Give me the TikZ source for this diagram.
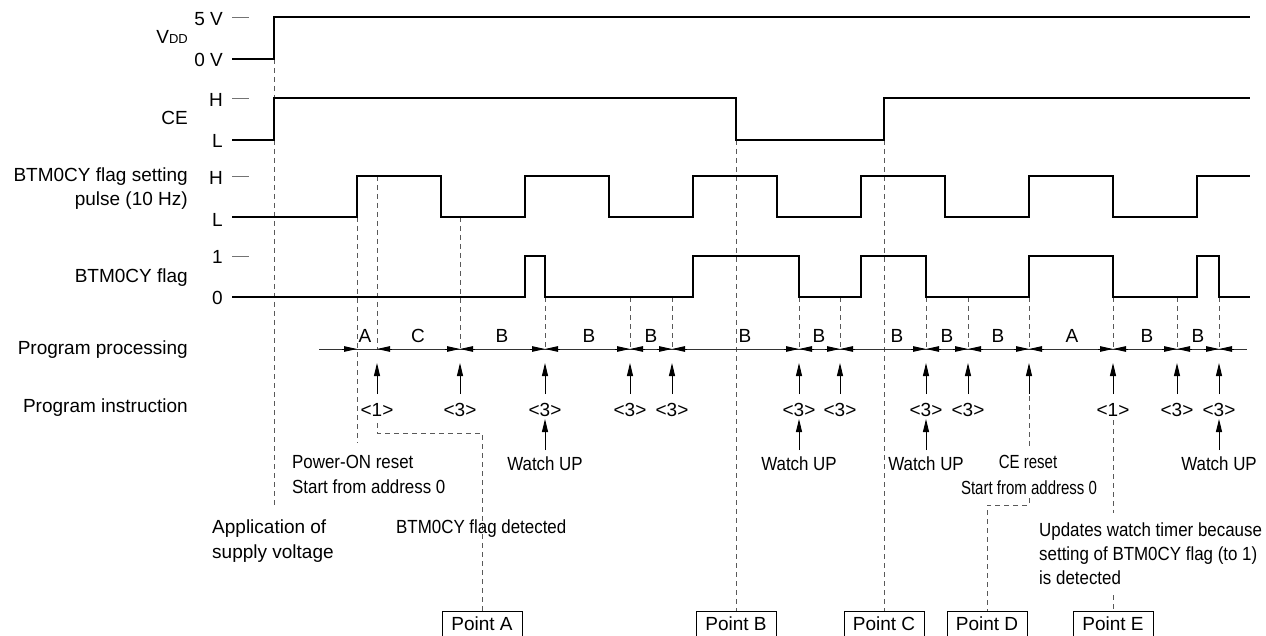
\documentclass[tikz,border=0pt]{standalone}
\usepackage{fontspec}
\setmainfont{Liberation Sans}
\newfontfamily\narrowA[FakeStretch=0.89]{Liberation Sans}
\newfontfamily\narrowB[FakeStretch=0.79]{Liberation Sans}
\usetikzlibrary{arrows.meta}
\begin{document}
\begin{tikzpicture}[x=1pt,y=-1pt,
 wave/.style={line width=2.5pt,line join=miter},
 dline/.style={line width=0.9pt,draw=black!65,dash pattern=on 5pt off 4pt},
 axisln/.style={line width=0.9pt,draw=black!80},
 ticky/.style={line width=0.9pt,draw=black!55},
 tipR/.style={-{Triangle[length=13pt,width=5.5pt]},line width=0.9pt},
 uparr/.style={-{Triangle[length=13pt,width=6pt]},line width=1pt},
 lbl/.style={inner sep=0pt,font=\fontsize{19}{22}\selectfont},
 nlbl/.style={inner sep=0pt,font=\narrowA\fontsize{19}{24}\selectfont},
 mlbl/.style={inner sep=0pt,font=\narrowB\fontsize{19}{24}\selectfont},
 ptbox/.style={draw,line width=0.9pt,minimum width=80pt,minimum height=26pt,inner sep=0pt,font=\fontsize{19}{22}\selectfont}]
\useasboundingbox (0,0) rectangle (1266,636);
\clip (0,0) rectangle (1266,636);

% ---------- left labels ----------
\node[lbl,anchor=base east] (vdd) at (188,44) {V{\fontsize{13}{13}\selectfont DD}};
\node[lbl,anchor=base east] (ce) at (188,125) {CE};
\node[lbl,anchor=base east] (pl1) at (188,182) {BTM0CY flag setting};
\node[lbl,anchor=base east] (pl2) at (188,206) {pulse (10 Hz)};
\node[lbl,anchor=base east] (fl) at (188,283) {BTM0CY flag};
\node[lbl,anchor=base east] (pp) at (188,354) {Program processing};
\node[lbl,anchor=base east] (pi) at (188,412) {Program instruction};

% level labels
\foreach \t/\b [count=\i] in {5 V/26,0 V/67,H/107,L/148,H/185,L/227,1/264,0/305}
  \node[lbl,anchor=base east] (lv\i) at (223,\b) {\t};
\foreach \y in {17,98,176,256} \draw[ticky] (232,\y) -- (249,\y);

% ---------- point boxes ----------
\node[ptbox] (pA) at (482,624) {Point A};
\node[ptbox] (pB) at (736,624) {Point B};
\node[ptbox] (pC) at (884,624) {Point C};
\node[ptbox] (pD) at (987,624) {Point D};
\node[ptbox] (pE) at (1113,624) {Point E};

% ---------- dashed guide lines ----------
\draw[dline] (274,59) -- (274,508);
\draw[dline] (357,217) -- (357,443);
\draw[dline] (377,176) -- (377,349);
\draw[dline] (377,423) -- (377,433) -- (482,433) -- (pA.north);
\draw[dline] (460,217) -- (460,349);
\foreach \x in {545,630,672,799,840,926,968,1177,1219}
  \draw[dline] (\x,297) -- (\x,349);
\draw[dline] (736,140) -- (pB.north);
\draw[dline] (884,140) -- (pC.north);
\draw[dline] (1029,297) -- (1029,349);
\draw[dline] (1029,396) -- (1029,446);
\draw[dline] (1029,498) -- (1029,505) -- (987,505) -- (pD.north);
\draw[dline] (1113,297) -- (1113,349);
\draw[dline] (1113,420) -- (1113,513);
\draw[dline] (1113,595) -- (pE.north);

% ---------- waveforms ----------
\draw[wave] (232,59) -- (274,59) -- (274,17) -- (1250,17);
\draw[wave] (232,140) -| (274,98) -| (736,140) -| (884,98) -- (1250,98);
\draw[wave] (232,217) -| (357,176) -| (441,217) -| (525,176) -| (609,217) -| (693,176)
  -| (777,217) -| (861,176) -| (945,217) -| (1029,176) -| (1113,217) -| (1197,176) -- (1250,176);
\draw[wave] (232,297) -| (525,256) -| (545,297) -| (693,256) -| (799,297) -| (861,256)
  -| (926,297) -| (1029,256) -| (1113,297) -| (1197,256) -| (1219,297) -- (1250,297);

% ---------- program processing axis ----------
\draw[axisln] (319,349) -- (1247,349);
\draw[tipR] (342,349) -- (357,349);
\draw[tipR] (392,349) -- (377,349);
\foreach \b in {460,545,630,672,799,840,926,968,1029,1113,1177,1219} {
  \draw[tipR] (\b-15,349) -- (\b,349);
  \draw[tipR] (\b+15,349) -- (\b,349);
}
\foreach \x/\t in {365/A,418/C,502/B,589/B,651/B,745/B,819/B,897/B,947/B,998/B,1072/A,1147/B,1198/B}
  \node[lbl,anchor=base] at (\x,342) {\t};

% ---------- program instruction arrows ----------
\foreach \x/\t in {377/<1>,460/<3>,545/<3>,630/<3>,672/<3>,799/<3>,840/<3>,926/<3>,968/<3>,1113/<1>,1177/<3>,1219/<3>} {
  \draw[uparr] (\x,394) -- (\x,363);
  \node[lbl,anchor=base] at (\x,416) {\t};
}
\draw[uparr] (1029,394) -- (1029,363);

% Watch UP
\foreach \x in {545,799,926,1219} {
  \draw[uparr] (\x,450) -- (\x,419);
  \node[nlbl,anchor=base] at (\x,470) {Watch UP};
}

% ---------- annotations ----------
\node[nlbl,anchor=base west] (por1) at (292,468) {Power-ON reset};
\node[nlbl,anchor=base west] (por2) at (292,493) {Start from address 0};
\node[lbl,anchor=base west] (app1) at (212,533) {Application of};
\node[lbl,anchor=base west] (app2) at (212,558) {supply voltage};
\node[nlbl,anchor=base west] (det) at (396,533) {BTM0CY flag detected};
\node[mlbl,anchor=base] (cer1) at (1028,468) {CE reset};
\node[mlbl,anchor=base] (cer2) at (1029,494) {Start from address 0};
\node[nlbl,anchor=base west] (upd1) at (1039,536) {Updates watch timer because};
\node[nlbl,anchor=base west] (upd2) at (1039,560) {setting of BTM0CY flag (to 1)};
\node[nlbl,anchor=base west] (upd3) at (1039,584) {is detected};
\end{tikzpicture}
\end{document}
